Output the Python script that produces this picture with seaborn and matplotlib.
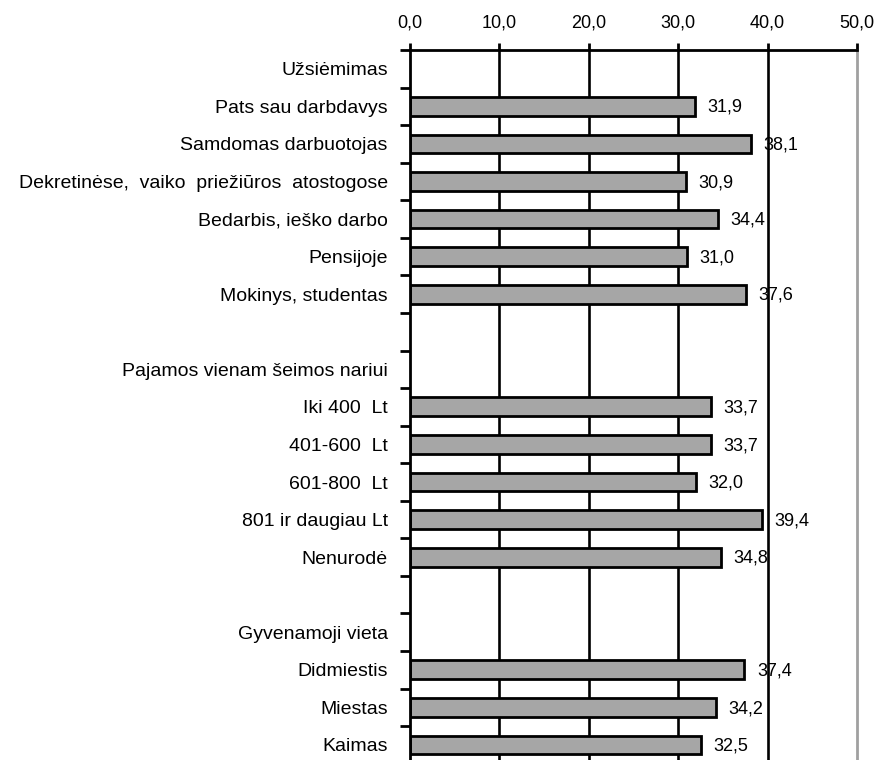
import numpy as np
import pandas as pd
import matplotlib
matplotlib.use("Agg")
import matplotlib.pyplot as plt
import seaborn as sns

# Row labels, top to bottom (blank rows and group headers carry no bar)
labels = [
    "Užsiėmimas",
    "Pats sau darbdavys",
    "Samdomas darbuotojas",
    "Dekretinėse,  vaiko  priežiūros  atostogose",
    "Bedarbis, ieško darbo",
    "Pensijoje",
    "Mokinys, studentas",
    " ",
    "Pajamos vienam šeimos nariui",
    "Iki 400  Lt",
    "401-600  Lt",
    "601-800  Lt",
    "801 ir daugiau Lt",
    "Nenurodė",
    "  ",
    "Gyvenamoji vieta",
    "Didmiestis",
    "Miestas",
    "Kaimas",
]
values = [np.nan, 31.9, 38.1, 30.9, 34.4, 31.0, 37.6,
          np.nan, np.nan, 33.7, 33.7, 32.0, 39.4, 34.8,
          np.nan, np.nan, 37.4, 34.2, 32.5]
xticks = [0, 10, 20, 30, 40, 50]

df = pd.DataFrame({"label": labels, "value": values})

sns.set_style("white")
plt.rcParams["font.family"] = ["Liberation Sans", "DejaVu Sans"]
plt.rcParams["text.color"] = "black"
plt.rcParams["xtick.color"] = "black"
plt.rcParams["ytick.color"] = "black"

fig = plt.figure(figsize=(8.75, 7.6), dpi=100)
ax = fig.add_axes([410 / 875, 0.0, 447 / 875, 1 - 50 / 760])

sns.barplot(data=df, x="value", y="label", order=labels, color="#a6a6a6",
            edgecolor="black", linewidth=2.0, width=0.5, saturation=1,
            zorder=2, ax=ax)

# vertical gridlines
for v in xticks[1:-1]:
    ax.axvline(v, color="black", linewidth=1.9, zorder=1.5)

# value labels
for i, v in enumerate(values):
    if not np.isnan(v):
        ax.text(v + 1.4, i + 0.03, f"{v:.1f}".replace(".", ","), va="center",
                ha="left", fontsize=13, color="black", zorder=1)

ax.set_xlim(0, 50)
ax.set_ylim(18.4, -0.5)
ax.xaxis.tick_top()
ax.set_xticks(xticks)
ax.set_xticklabels([f"{t:.1f}".replace(".", ",") for t in xticks], fontsize=13)
ax.tick_params(axis="x", which="major", top=True, direction="out", length=5,
               width=2.0, pad=8)
ax.set_xlabel("")
ax.set_ylabel("")

ax.set_yticks(range(len(labels)))
ax.set_yticklabels(labels, fontsize=14)
ax.set_yticks(np.arange(-0.5, len(labels) - 0.5, 1), minor=True)
ax.tick_params(axis="y", which="major", left=False, length=0, pad=16)
ax.tick_params(axis="y", which="minor", left=True, direction="out", length=7,
               width=2.0)

for side in ["left", "top"]:
    ax.spines[side].set_color("black")
    ax.spines[side].set_linewidth(2.0)
ax.spines["right"].set_color("#a0a0a0")
ax.spines["right"].set_linewidth(2.0)
ax.spines["bottom"].set_visible(False)

fig.savefig("out.png", dpi=100)
